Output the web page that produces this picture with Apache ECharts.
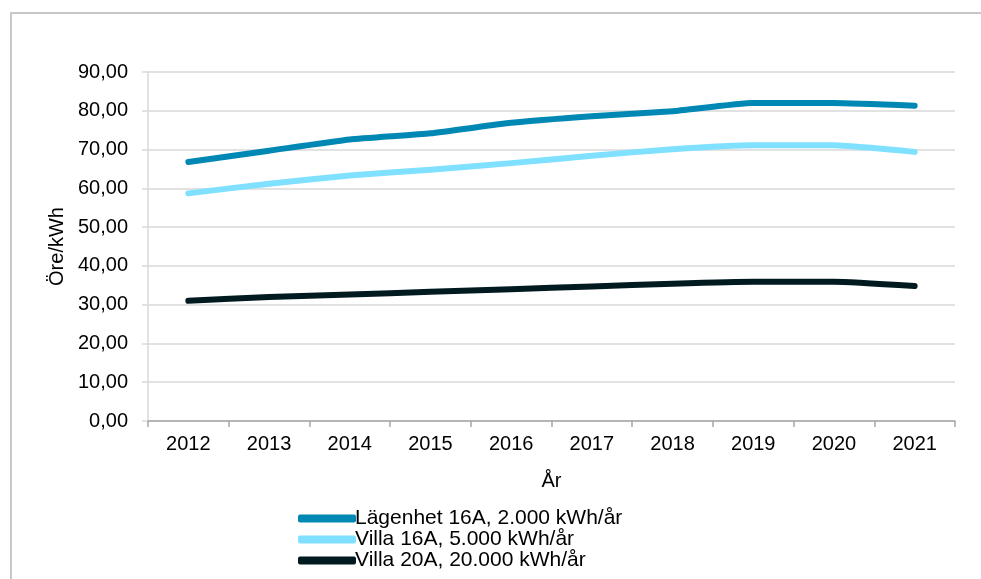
<!DOCTYPE html>
<html>
<head>
<meta charset="utf-8">
<script src="https://cdn.jsdelivr.net/npm/echarts@6/dist/echarts.min.js"></script>
<style>
  html, body { margin: 0; padding: 0; background: #fff; }
  #chart { width: 981px; height: 579px; }
</style>
</head>
<body>
<div id="chart"></div>
<script>
const years = ['2012', '2013', '2014', '2015', '2016', '2017', '2018', '2019', '2020', '2021']
const lagenhet16 = [66.8, 69.7, 72.6, 74.2, 76.9, 78.6, 79.9, 82.0, 82.0, 81.3]
const villa16 = [58.7, 61.2, 63.3, 64.8, 66.5, 68.4, 70.1, 71.1, 71.1, 69.4]
const villa20 = [31.0, 32.0, 32.6, 33.3, 34.0, 34.7, 35.4, 35.9, 35.9, 34.8]

const font = '"Liberation Sans", Arial, sans-serif'

let chart = echarts.init(document.getElementById('chart'), null, { renderer: 'canvas' })

function lineSeries(name, data, color) {
  return {
    name,
    type: 'line',
    data,
    smooth: 0.15,
    symbol: 'none',
    lineStyle: { width: 6, color, cap: 'round', join: 'round' },
    itemStyle: { color }
  }
}

chart.setOption({
  animation: false,
  textStyle: { fontFamily: font },
  graphic: [{
    type: 'rect',
    shape: { x: 11, y: 13, width: 1000, height: 600 },
    style: { fill: 'none', stroke: '#c8c8c8', lineWidth: 2 },
    silent: true
  }],
  grid: { left: 148, right: 26, top: 72, bottom: 158 },
  legend: {
    orient: 'vertical',
    left: 298,
    top: 508,
    height: 70,
    padding: 0,
    itemWidth: 58,
    itemHeight: 8,
    itemGap: 0,
    icon: 'roundRect',
    textStyle: { fontSize: 21, lineHeight: 20, color: '#000', fontFamily: font, padding: [0, 0, 0, -6] },
    data: ['Lägenhet 16A, 2.000 kWh/år', 'Villa 16A, 5.000 kWh/år', 'Villa 20A, 20.000 kWh/år']
  },
  xAxis: {
    type: 'category',
    data: years,
    boundaryGap: true,
    name: 'År',
    nameLocation: 'middle',
    nameGap: 50,
    nameTextStyle: { fontSize: 20, color: '#000' },
    axisLine: { lineStyle: { color: '#a6a6a6', width: 1.5 } },
    axisTick: { show: true, length: 6, lineStyle: { color: '#a6a6a6', width: 1.5 } },
    axisLabel: { fontSize: 20, color: '#000', margin: 13 }
  },
  yAxis: {
    type: 'value',
    min: 0,
    max: 90,
    interval: 10,
    name: 'Öre/kWh',
    nameLocation: 'middle',
    nameGap: 81,
    nameTextStyle: { fontSize: 20, color: '#000' },
    axisLine: { show: true, lineStyle: { color: '#d9d9d9', width: 1.5 } },
    axisTick: { show: true, length: 6, lineStyle: { color: '#d9d9d9', width: 1.5 } },
    splitLine: { lineStyle: { color: '#d9d9d9', width: 1.5 } },
    axisLabel: {
      fontSize: 20,
      color: '#000',
      margin: 20,
      formatter: v => v.toFixed(2).replace('.', ',')
    }
  },
  series: [
    lineSeries('Lägenhet 16A, 2.000 kWh/år', lagenhet16, '#0088b4'),
    lineSeries('Villa 16A, 5.000 kWh/år', villa16, '#80e0ff'),
    lineSeries('Villa 20A, 20.000 kWh/år', villa20, '#001a20')
  ]
})
</script>
</body>
</html>
